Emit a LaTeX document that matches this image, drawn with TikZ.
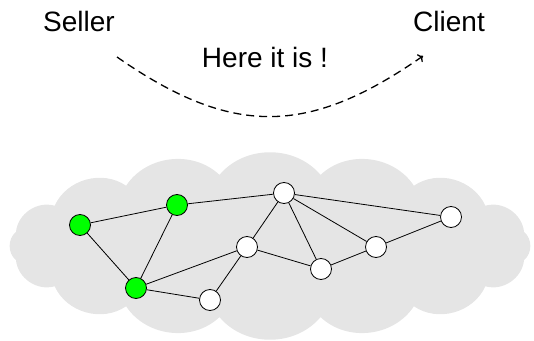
\documentclass[tikz,border=0pt]{standalone}
\usepackage{fontspec}
\setmainfont{Liberation Sans}
\usetikzlibrary{arrows.meta}

\begin{document}
\begin{tikzpicture}[x=1pt, y=1pt, >=To,
    peer/.style={circle, draw, line width=0.8pt, fill=white,
                 minimum size=21pt, inner sep=0pt},
    seed/.style={peer, fill=green},
    link/.style={line width=0.8pt},
    msg/.style={->, line width=1.3pt, dash pattern=on 8pt off 5pt},
    who/.style={font=\fontsize{28}{33}\selectfont, anchor=base}]
  \useasboundingbox (0,0) rectangle (534,340);

  % the network: 16 puffs round an ellipse
  \fill[gray!20, shift={(270,94)}] (11.25:259 and 72.5)
    \foreach \k in {1,...,16} { to[bend right=50] ({11.25+22.5*\k}:259 and 72.5) }
    -- cycle;

  % peers holding the file
  \node[seed] (a) at (80,115) {};
  \node[seed] (b) at (177,135) {};
  \node[seed] (c) at (136,52) {};

  % other peers
  \node[peer] (d) at (284,147) {};
  \node[peer] (e) at (247,93) {};
  \node[peer] (f) at (210,40) {};
  \node[peer] (g) at (321,71) {};
  \node[peer] (h) at (376,93) {};
  \node[peer] (i) at (451,123) {};

  \foreach \u/\v in {a/b, a/c, b/c, b/d, c/e, c/f, e/f, e/d,
                     e/g, d/g, d/h, d/i, g/h, h/i}
    \draw[link] (\u) -- (\v);

  % the exchange
  \node[who] (seller) at (79,308) {Seller};
  \node[who] (client) at (449,308) {Client};
  \node[who] (reply) at (265,272) {Here it is !};
  \coordinate (send) at (117,283);
  \coordinate (recv) at (423,284);
  \draw[msg] (send) .. controls +(115,-80) and +(-115,-80) .. (recv);
\end{tikzpicture}
\end{document}
